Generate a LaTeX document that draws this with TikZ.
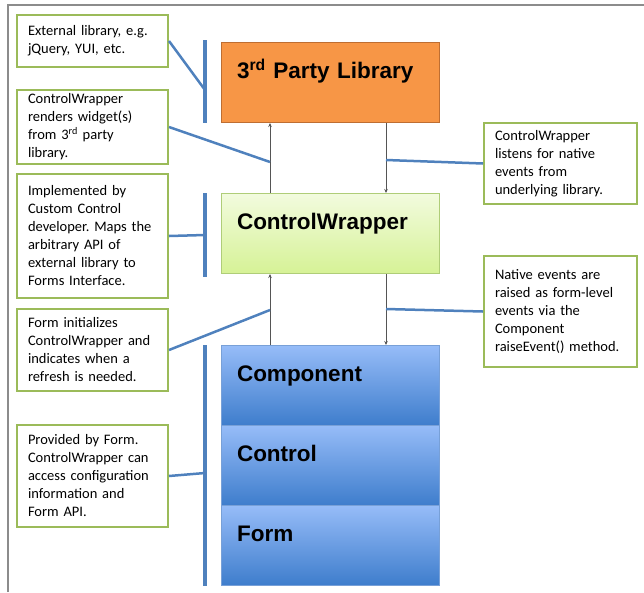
\documentclass[tikz,border=0pt]{standalone}
\usepackage{fontspec}
\setmainfont{Carlito}
\newfontfamily\headfont{Liberation Sans}
\usetikzlibrary{arrows.meta}
\frenchspacing
\definecolor{notegreen}{RGB}{155,187,89}
\definecolor{linkblue}{RGB}{79,129,189}
\definecolor{framegray}{RGB}{140,140,140}
\definecolor{arrowgray}{RGB}{85,85,85}
\tikzset{
  note/.style={draw=notegreen, line width=2pt, fill=white, anchor=north west, align=left,
    text width=129pt, inner xsep=11pt, inner ysep=0pt, font=\fontsize{14.5}{18}\selectfont},
  layer/.style={anchor=north west, align=left, text width=187pt, inner xsep=15.5pt, inner ysep=0pt,
    text height=36pt, text depth=44pt, line width=1pt,
    font=\headfont\bfseries\fontsize{22.5}{27}\selectfont},
  bar/.style={fill=linkblue, draw=none, minimum width=4.5pt, inner sep=0pt},
  link/.style={draw=linkblue, line width=2.5pt},
  flow/.style={draw=arrowgray, line width=0.8pt, -{Stealth[length=4pt,width=3.5pt]}}
}
\begin{document}
\begin{tikzpicture}[x=1pt,y=-1pt]
\useasboundingbox (0,0) rectangle (644,592);
\draw[framegray, line width=2pt] (8,592) -- (8,5) -- (644,5);

% main stack
\node[layer, draw={rgb,255:red,190;green,110;blue,50}, fill={rgb,255:red,247;green,150;blue,70}] (lib) at (221,42) {3\textsuperscript{rd} Party Library};
\node[layer, draw={rgb,255:red,175;green,205;blue,120}, top color={rgb,255:red,242;green,251;blue,222}, bottom color={rgb,255:red,214;green,242;blue,150}] (wrap) at (221,193) {ControlWrapper};
\node[layer, draw={rgb,255:red,120;green,160;blue,215}, top color={rgb,255:red,150;green,188;blue,248}, bottom color={rgb,255:red,62;green,125;blue,204}] (comp) at (221,345) {Component};
\node[layer, draw={rgb,255:red,120;green,160;blue,215}, top color={rgb,255:red,150;green,188;blue,248}, bottom color={rgb,255:red,62;green,125;blue,204}] (ctrl) at (221,425) {Control};
\node[layer, draw={rgb,255:red,120;green,160;blue,215}, top color={rgb,255:red,150;green,188;blue,248}, bottom color={rgb,255:red,62;green,125;blue,204}] (form) at (221,505) {Form};

% notes
\node[note, minimum height=52pt] (n1) at (16,14) {External library, e.g.\\ jQuery, YUI, etc.};
\node[note, minimum height=74pt] (n2) at (16,89) {ControlWrapper\\ renders widget(s)\\ from 3\textsuperscript{rd} party\\ library.};
\node[note, minimum height=124pt] (n3) at (16,173) {Implemented by\\ Custom Control\\ developer. Maps the\\ arbitrary API of\\ external library to\\ Forms Interface.};
\node[note, minimum height=82pt] (n4) at (16,308) {Form initializes\\ ControlWrapper and\\ indicates when a\\ refresh is needed.};
\node[note, minimum height=102pt] (n5) at (16,424) {Provided by Form.\\ ControlWrapper can\\ access configuration\\ information and\\ Form API.};
\node[note, minimum height=81pt, text width=131pt] (n6) at (483,122) {ControlWrapper\\ listens for native\\ events from\\ underlying library.};
\node[note, minimum height=111pt, text width=131pt] (n7) at (483,255) {Native events are\\ raised as form-level\\ events via the\\ Component\\ raiseEvent() method.};

% bars
\node[bar, minimum height=83pt] (b1) at (205,81.5) {};
\node[bar, minimum height=84pt] (b2) at (205,235) {};
\node[bar, minimum height=241pt] (b3) at (205,465.5) {};

% arrows between layers
\draw[flow] ([xshift=49pt]wrap.north west) -- ([xshift=49pt]lib.south west);
\draw[flow] ([xshift=165pt]lib.south west) -- ([xshift=165pt]wrap.north west);
\draw[flow] ([xshift=49pt]comp.north west) -- ([xshift=49pt]wrap.south west);
\draw[flow] ([xshift=165pt]wrap.south west) -- ([xshift=165pt]comp.north west);

% links from notes
\coordinate (j1) at (270,162);
\coordinate (j2) at (270,310);
\coordinate (j3) at (386,160);
\coordinate (j4) at (386,309);
\draw[link] (n1.east) -- ([yshift=-8.5pt]b1.center);
\draw[link] (n2.east) -- (j1);
\draw[link] (n3.east) -- (b2.center);
\draw[link] (n4.east) -- (j2);
\draw[link] (n5.east) -- ([yshift=-7.5pt]b3.center);
\draw[link] (j3) -- (n6.west);
\draw[link] (j4) -- (n7.west);
\end{tikzpicture}
\end{document}
